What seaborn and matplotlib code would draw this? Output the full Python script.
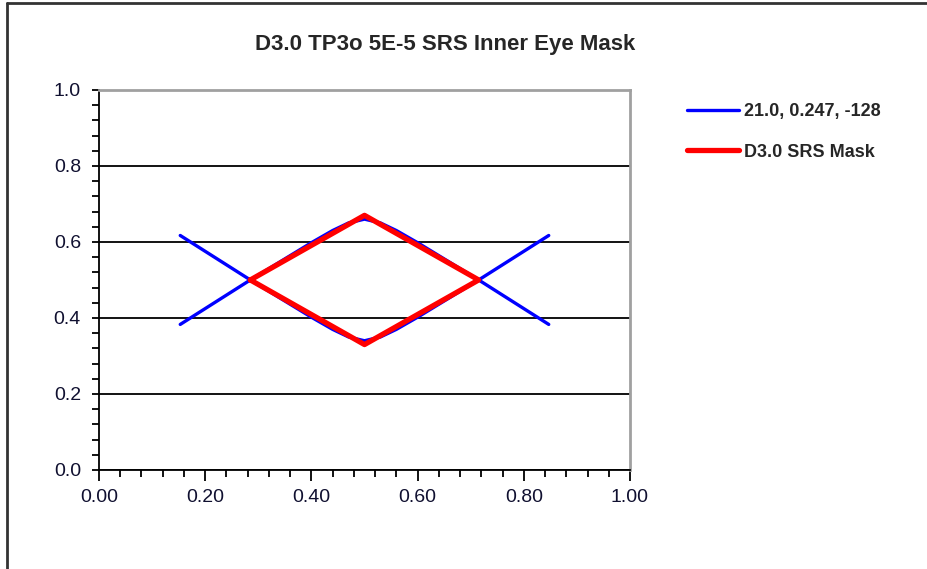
import matplotlib
matplotlib.use("Agg")
import matplotlib.pyplot as plt
import seaborn as sns
import pandas as pd
from matplotlib.lines import Line2D
from matplotlib.ticker import MultipleLocator, FormatStrFormatter

# eye trace (blue), drawn as upper and lower curves
eye_x = [0.153, 0.285, 0.40, 0.44, 0.47, 0.50, 0.53, 0.56, 0.60, 0.715, 0.847]
eye_upper = [0.383, 0.500, 0.598, 0.630, 0.650, 0.660, 0.650, 0.630, 0.598, 0.500, 0.383]
eye_lower = [0.617, 0.500, 0.402, 0.370, 0.350, 0.340, 0.350, 0.370, 0.402, 0.500, 0.617]

# SRS mask (red diamond)
mask_x = [0.285, 0.50, 0.715, 0.50, 0.285]
mask_y = [0.50, 0.67, 0.50, 0.33, 0.50]

eye_label = "21.0, 0.247, -128"
mask_label = "D3.0 SRS Mask"
title = "D3.0 TP3o 5E-5 SRS Inner Eye Mask"

sns.set_style("white")
plt.rcParams["font.family"] = ["Liberation Sans", "DejaVu Sans"]

fig = plt.figure(figsize=(9.27, 5.69), dpi=100)
ax = fig.add_axes([0.1068, 0.174, 0.5728, 0.668])

upper = pd.DataFrame({"x": eye_x, "y": eye_upper})
lower = pd.DataFrame({"x": eye_x, "y": eye_lower})
mask = pd.DataFrame({"x": mask_x, "y": mask_y})

sns.lineplot(data=upper, x="x", y="y", sort=False, estimator=None,
             color="#0000ff", linewidth=2.4, label=eye_label, ax=ax, zorder=3)
sns.lineplot(data=lower, x="x", y="y", sort=False, estimator=None,
             color="#0000ff", linewidth=2.4, ax=ax, zorder=3)
sns.lineplot(data=mask, x="x", y="y", sort=False, estimator=None,
             color="#ff0000", linewidth=3.8, label=mask_label, ax=ax, zorder=4)

ax.set_xlim(0, 1)
ax.set_ylim(0, 1)
ax.xaxis.set_major_locator(MultipleLocator(0.2))
ax.xaxis.set_minor_locator(MultipleLocator(0.04))
ax.yaxis.set_major_locator(MultipleLocator(0.2))
ax.yaxis.set_minor_locator(MultipleLocator(0.04))
ax.xaxis.set_major_formatter(FormatStrFormatter("%.2f"))
ax.yaxis.set_major_formatter(FormatStrFormatter("%.1f"))
ax.set_xlabel("")
ax.set_ylabel("")

ax.grid(axis="y", which="major", color="black", linewidth=1.3)
ax.grid(axis="x", visible=False)
ax.set_axisbelow(True)

for side in ["top", "right"]:
    ax.spines[side].set_color("#a0a0a0")
    ax.spines[side].set_linewidth(2.0)
for side in ["left", "bottom"]:
    ax.spines[side].set_color("black")
    ax.spines[side].set_linewidth(1.3)

ax.tick_params(axis="both", which="both", direction="out", color="black",
               width=1.3, labelsize=14, labelcolor="#101030")
ax.tick_params(axis="y", which="both", left=True, length=5, pad=8)
ax.tick_params(axis="x", which="major", bottom=True, length=8, pad=6)
ax.tick_params(axis="x", which="minor", bottom=True, length=5)

fig.text(0.48, 0.921, title, ha="center", va="center", fontsize=16,
         fontweight="bold")

leg = ax.legend(loc="upper left", bbox_to_anchor=(1.077, 1.008),
                frameon=False, handlelength=2.9, handletextpad=0.25,
                labelspacing=1.3, prop={"size": 13, "weight": "bold"})

# figure border (left and top edges visible)
fig.add_artist(Line2D([0.0075, 0.0075], [0, 0.994], transform=fig.transFigure,
                      color="#333333", linewidth=2))
fig.add_artist(Line2D([0.0075, 1], [0.994, 0.994], transform=fig.transFigure,
                      color="#333333", linewidth=2))

fig.savefig("out.png", dpi=100)
